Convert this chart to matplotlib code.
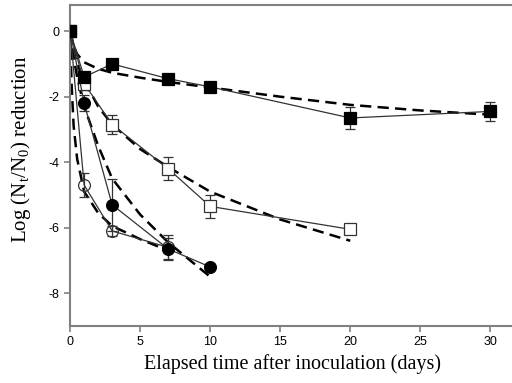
import matplotlib
matplotlib.use("Agg")
import matplotlib.pyplot as plt

plt.rcParams['axes.unicode_minus'] = False
plt.rcParams['mathtext.fontset'] = 'custom'
plt.rcParams['mathtext.rm'] = 'Liberation Serif'

# observed data (days, log reduction, error)
t_fsq = [0, 1, 3, 7, 10, 20, 30]
y_fsq = [0, -1.4, -1.0, -1.45, -1.7, -2.65, -2.45]
e_fsq = [0, 0.15, 0.1, 0.1, 0.1, 0.35, 0.3]

t_osq = [0, 1, 3, 7, 10, 20]
y_osq = [0, -1.6, -2.85, -4.2, -5.35, -6.05]
e_osq = [0, 0.2, 0.3, 0.35, 0.35, 0]

t_fci = [0, 1, 3, 7, 10]
y_fci = [0, -2.2, -5.3, -6.65, -7.2]
e_fci = [0, 0.25, 0.8, 0.35, 0]

t_oci = [0, 1, 3, 7]
y_oci = [0, -4.7, -6.1, -6.6]
e_oci = [0, 0.37, 0.15, 0.37]

# fitted curves (dashed)
tf_fsq = [0, 0.25, 0.5, 1, 2, 3, 5, 7, 10, 15, 20, 25, 30]
yf_fsq = [0, -0.45, -0.7, -0.95, -1.15, -1.27, -1.42, -1.55, -1.72, -2.0, -2.25, -2.42, -2.55]

tf_osq = [0, 0.25, 0.5, 1, 2, 3, 5, 7, 10, 15, 20]
yf_osq = [0, -0.6, -1.0, -1.5, -2.3, -2.85, -3.6, -4.15, -4.9, -5.75, -6.4]

tf_fci = [0, 0.25, 0.5, 1, 2, 3, 5, 7, 10]
yf_fci = [0, -0.8, -1.4, -2.3, -3.5, -4.5, -5.6, -6.45, -7.5]

tf_oci = [0, 0.1, 0.25, 0.5, 1, 2, 3, 5, 7]
yf_oci = [0, -1.6, -2.9, -3.9, -4.9, -5.55, -5.95, -6.35, -6.7]

fig = plt.figure(figsize=(5.12, 3.83), dpi=100)
ax = fig.add_axes([0.137, 0.149, 0.87, 0.838])

for tf, yf in [(tf_fsq, yf_fsq), (tf_osq, yf_osq), (tf_fci, yf_fci), (tf_oci, yf_oci)]:
    ax.plot(tf, yf, color='black', lw=1.8, ls=(0, (4.5, 2.5)), zorder=2)

series = [
    (t_oci, y_oci, e_oci, 'o', 'none'),
    (t_osq, y_osq, e_osq, 's', 'white'),
    (t_fci, y_fci, e_fci, 'o', 'black'),
    (t_fsq, y_fsq, e_fsq, 's', 'black'),
]
for t, y, e, m, fc in series:
    ax.errorbar(t, y, yerr=e, color='#333333', lw=0.9, marker=m, ms=8.5,
                mfc=fc, mec='#333333' if fc != 'black' else 'black', mew=0.9,
                capsize=3.5, capthick=0.9, elinewidth=0.9, zorder=3)

ax.set_xlim(0, 31.8)
ax.set_ylim(-9.0, 0.8)
ax.set_xticks([0, 5, 10, 15, 20, 25, 30])
ax.set_yticks([0, -2, -4, -6, -8])

for s in ['left', 'bottom', 'top']:
    ax.spines[s].set_color('#808080')
    ax.spines[s].set_linewidth(1.5)
ax.spines['right'].set_visible(False)
ax.tick_params(direction='out', color='#808080', width=1.2, length=4,
               labelsize=9)
for lab in ax.get_xticklabels() + ax.get_yticklabels():
    lab.set_fontfamily('Liberation Sans')

ax.set_xlabel('Elapsed time after inoculation (days)', family='Liberation Serif',
              fontsize=14.5, labelpad=4)
ax.set_ylabel(r'Log (N$_\mathregular{t}$/N$_\mathregular{0}$) reduction',
              family='Liberation Serif', fontsize=15)
ax.yaxis.set_label_coords(-0.083, 0.55)

fig.savefig('out.png', dpi=100)
